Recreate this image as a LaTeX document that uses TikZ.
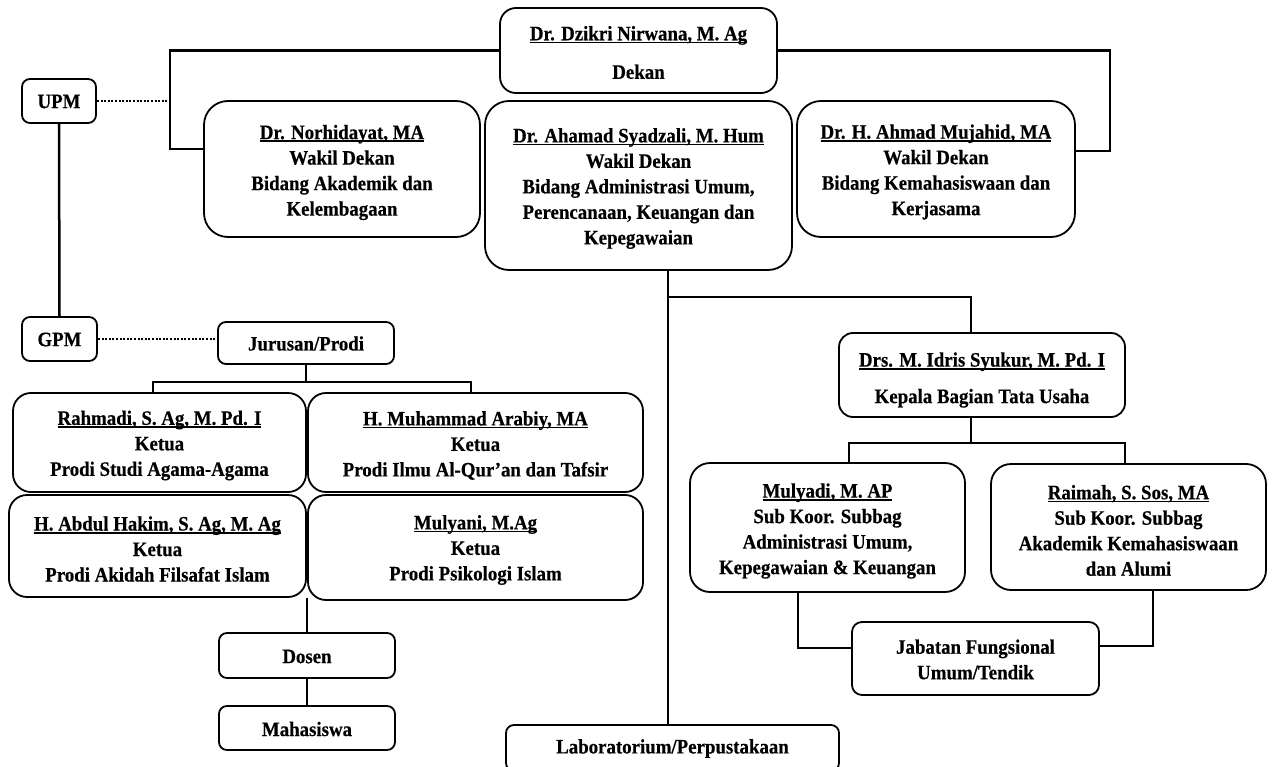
\documentclass[tikz,border=0pt]{standalone}
\usepackage{fontspec}
\setmainfont{Liberation Serif}[FakeStretch=0.92, BoldFeatures={FakeBold=0.4}]
\newcommand{\nameul}[1]{\setbox0=\hbox{#1}\leavevmode\rlap{\rule[-3pt]{\wd0}{1.6pt}}\box0}
\tikzset{
  box/.style={draw, line width=1.8pt, rounded corners=#1, inner sep=0pt},
  box/.default=18pt,
  boxtext/.style={inner sep=0pt, align=center, font=\bfseries\fontsize{20.5}{25.5}\selectfont},
  conn/.style={line width=2.5pt},
  dots/.style={line width=2pt, dash pattern=on 2pt off 1.6pt}
}
\newcommand{\bx}[8]{\node[box=#6, minimum width={(#4-#2)*1pt}, minimum height={(#5-#3)*1pt}] (#1) at ({(#2+#4)/2},{(#3+#5)/2}) {};
  \node[boxtext] (#1-t) at ([yshift=-#7pt]#1.center) {#8};}
\begin{document}
\begin{tikzpicture}[x=1pt,y=-1pt]
\fill[white] (0,0) rectangle (1273,767);
\useasboundingbox (0,0) rectangle (1273,767);
% boxes
\bx{dekan}{500}{8}{777}{93}{16pt}{2}{\nameul{Dr. Dzikri Nirwana, M. Ag}\\[13pt]Dekan}
\bx{upm}{22}{79}{96}{123}{8pt}{0.5}{UPM}
\bx{norh}{204}{101}{480}{237}{24pt}{3.5}{\nameul{Dr. Norhidayat, MA}\\Wakil Dekan\\Bidang Akademik dan\\Kelembagaan}
\bx{syad}{485}{101}{792}{270}{24pt}{3}{\nameul{Dr. Ahamad Syadzali, M. Hum}\\Wakil Dekan\\Bidang Administrasi Umum,\\Perencanaan, Keuangan dan\\Kepegawaian}
\bx{muja}{797}{101}{1075}{237}{24pt}{3}{\nameul{Dr. H. Ahmad Mujahid, MA}\\Wakil Dekan\\Bidang Kemahasiswaan dan\\Kerjasama}
\bx{gpm}{22}{317}{97}{361}{8pt}{0.5}{GPM}
\bx{jur}{218}{322}{394}{364}{8pt}{0.5}{Jurusan/Prodi}
\bx{rahm}{13}{393}{306}{492}{18pt}{3}{\nameul{Rahmadi, S. Ag, M. Pd. I}\\Ketua\\Prodi Studi Agama-Agama}
\bx{arab}{308}{393}{643}{492}{18pt}{3}{\nameul{H. Muhammad Arabiy, MA}\\Ketua\\Prodi Ilmu Al-Qur’an dan Tafsir}
\bx{hakim}{9}{495}{306}{597}{18pt}{3}{\nameul{H. Abdul Hakim, S. Ag, M. Ag}\\Ketua\\Prodi Akidah Filsafat Islam}
\bx{muly}{308}{495}{643}{600}{18pt}{2.5}{\nameul{Mulyani, M.Ag}\\Ketua\\Prodi Psikologi Islam}
\bx{dosen}{219}{633}{395}{678}{8pt}{1}{Dosen}
\bx{maha}{219}{706}{395}{750}{8pt}{1}{Mahasiswa}
\bx{lab}{506}{725}{839}{771}{8pt}{0.5}{Laboratorium/Perpustakaan}
\bx{idris}{839}{333}{1125}{417}{14pt}{5}{\nameul{Drs. M. Idris Syukur, M. Pd. I}\\[11pt]Kepala Bagian Tata Usaha}
\bx{mulyadi}{690}{463}{965}{592}{20pt}{3.5}{\nameul{Mulyadi, M. AP}\\Sub Koor. Subbag\\Administrasi Umum,\\Kepegawaian \& Keuangan}
\bx{raimah}{991}{464}{1266}{590}{20pt}{3.5}{\nameul{Raimah, S. Sos, MA}\\Sub Koor. Subbag\\Akademik Kemahasiswaan\\dan Alumi}
\bx{jab}{852}{622}{1099}{695}{10pt}{1}{Jabatan Fungsional\\Umum/Tendik}
% top connectors
\coordinate (cL) at (170,149);
\coordinate (cR) at (1110,151);
\draw[conn] (dekan.west) -| (cL) -- (cL -| norh.west);
\draw[conn] (dekan.east) -| (cR) -- (cR -| muja.east);
\draw[dots] (upm.east) -- (upm.east -| cL);
\draw[conn] (upm.south) -- (gpm.north);
\draw[dots] (gpm.east) -- (gpm.east -| jur.west);
% jurusan tree
\coordinate (jb) at (306,382);
\coordinate (j1) at (153,382);
\coordinate (j2) at (471,382);
\draw[conn] (jur.south) -- (jb);
\draw[conn] (j1 |- rahm.north) -- (j1) -- (j2) -- (j2 |- arab.north);
\draw[conn] (dosen.north |- hakim.south) -- (dosen.north);
\draw[conn] (dosen.south) -- (maha.north);
% right tree
\coordinate (s1) at (668,297);
\coordinate (s2) at (971,297);
\draw[conn] (s1 |- syad.south) -- (s1 |- lab.north);
\draw[conn] (s1) -- (s2) -- (s2 |- idris.north);
\coordinate (t0) at (971,443);
\coordinate (t1) at (849,443);
\coordinate (t2) at (1125,443);
\draw[conn] (t0 |- idris.south) -- (t0);
\draw[conn] (t1 |- mulyadi.north) -- (t1) -- (t2) -- (t2 |- raimah.north);
\coordinate (u1) at (798,648);
\coordinate (u2) at (1153,646);
\draw[conn] (u1 |- mulyadi.south) -- (u1) -- (u1 -| jab.west);
\draw[conn] (u2 |- raimah.south) -- (u2) -- (u2 -| jab.east);
\end{tikzpicture}
\end{document}
